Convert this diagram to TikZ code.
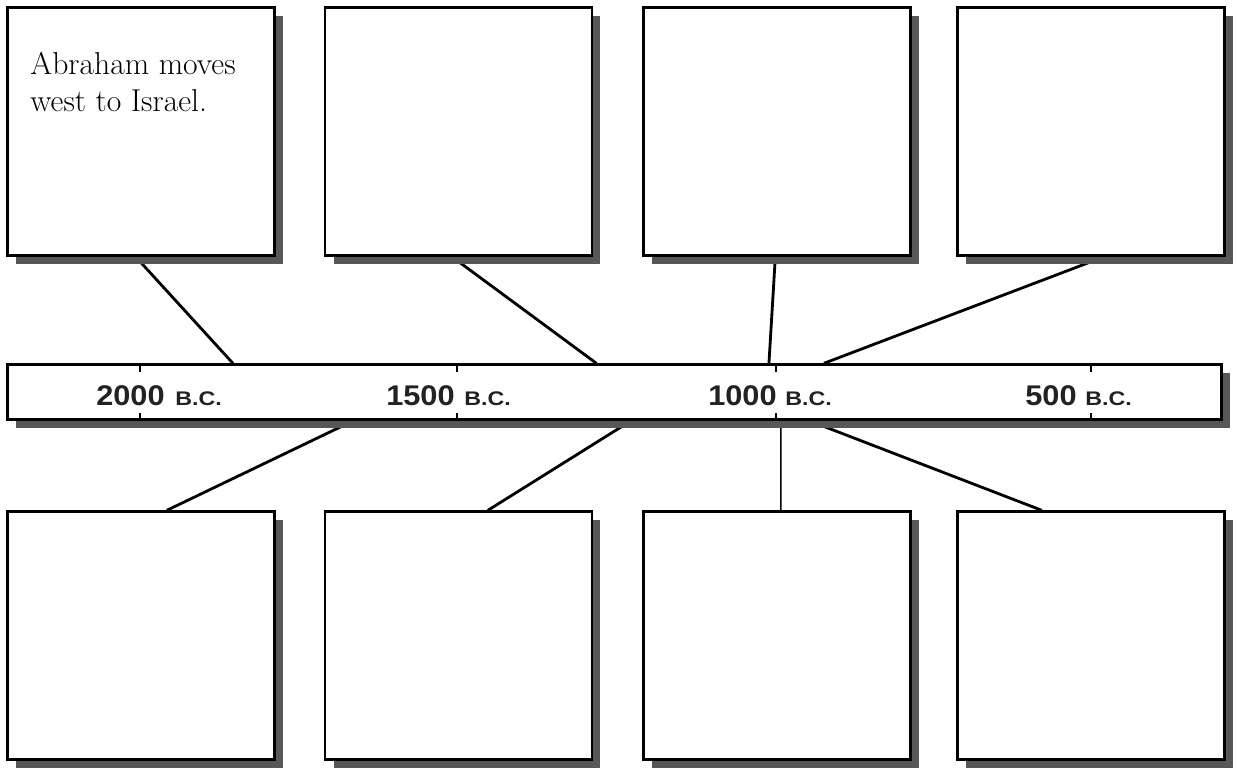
\documentclass[tikz,border=0pt]{standalone}
\usepackage{fontspec}
\usepackage{graphicx}
\usetikzlibrary{shadows,calc,backgrounds}
\newfontfamily\lsans{Liberation Sans}
\definecolor{shadowc}{HTML}{575757}
\definecolor{labelc}{HTML}{222222}
\newcommand{\yearnum}[1]{\scalebox{1.08}[1]{\lsans\bfseries\fontsize{16.2}{18}\selectfont #1}}
\newcommand{\bcmark}{\scalebox{1.18}[1]{\lsans\bfseries\fontsize{11.2}{12}\selectfont B.C.}}
\begin{document}
\begin{tikzpicture}[x=0.02cm,y=-0.02cm,
  shadowed/.style={drop shadow={shadow xshift=0.17cm, shadow yshift=-0.17cm, fill=shadowc, opacity=1}},
  evbox/.style={draw=black, line width=1.35pt, fill=white, minimum width=5.34cm, minimum height=4.96cm, inner sep=0pt, shadowed},
  barbox/.style={draw=black, line width=1.35pt, fill=white, minimum width=24.28cm, minimum height=1.1cm, inner sep=0pt, shadowed},
  conn/.style={line width=1.6pt, black},
  thinconn/.style={line width=0.9pt, black},
  tick/.style={line width=1.3pt, black},
  numlbl/.style={anchor=base east, inner sep=0pt, text=labelc},
  bclbl/.style={anchor=base west, inner sep=0pt, text=labelc}]
\useasboundingbox (0,0) rectangle (1237,768);
% boxes
\node[evbox] (b1) at (141,131.5) {};
\node[evbox] (b2) at (458.5,131.5) {};
\node[evbox] (b3) at (777,131.5) {};
\node[evbox] (b4) at (1091,131.5) {};
\node[evbox] (b5) at (141,635.5) {};
\node[evbox] (b6) at (458.5,635.5) {};
\node[evbox] (b7) at (777,635.5) {};
\node[evbox] (b8) at (1091,635.5) {};
% timeline bar
\node[barbox] (bar) at (614.5,392) {};
% ticks
\foreach \t in {133.5,450.5,769.5,1084.5}{
  \draw[tick] ($(bar.north west)+(\t,0)$) -- ++(0,9);
  \draw[tick] ($(bar.south west)+(\t,0)$) -- ++(0,-8);
}
% date labels
\node[numlbl] (n2000) at (165,405) {\yearnum{2000}};
\node[bclbl] (c2000) at (175,405) {\bcmark};
\node[numlbl] (n1500) at (455,405) {\yearnum{1500}};
\node[bclbl] (c1500) at (464,405) {\bcmark};
\node[numlbl] (n1000) at (777,405) {\yearnum{1000}};
\node[bclbl] (c1000) at (785,405) {\bcmark};
\node[numlbl] (n500) at (1077,405) {\yearnum{500}};
\node[bclbl] (c500) at (1085,405) {\bcmark};
% text
\node[anchor=north west, inner sep=0pt, align=left, font=\fontsize{18}{21}\selectfont] (t1) at (30,52) {Abraham moves\\west to Israel.};
% connectors
\begin{scope}[on background layer]
\draw[conn] ($(b1.south west)+(129.2,0)$) -- ($(bar.north west)+(226.5,0)$);
\draw[conn] ($(b2.south west)+(128,0)$) -- ($(bar.north west)+(590,0)$);
\draw[conn] ($(b3.south west)+(133,0)$) -- ($(bar.north west)+(762.5,0)$);
\draw[conn] ($(b4.south west)+(148,0)$) -- ($(bar.north west)+(817.5,0)$);
\draw[conn] ($(bar.south west)+(347,0)$) -- ($(b5.north west)+(160.5,0)$);
\draw[conn] ($(bar.south west)+(624.7,0)$) -- ($(b6.north west)+(164,0)$);
\draw[thinconn] ($(bar.south west)+(774.5,0)$) -- ($(b7.north west)+(138.5,0)$);
\draw[conn] ($(bar.south west)+(802.5,0)$) -- ($(b8.north west)+(85.5,0)$);
\end{scope}
\end{tikzpicture}
\end{document}
